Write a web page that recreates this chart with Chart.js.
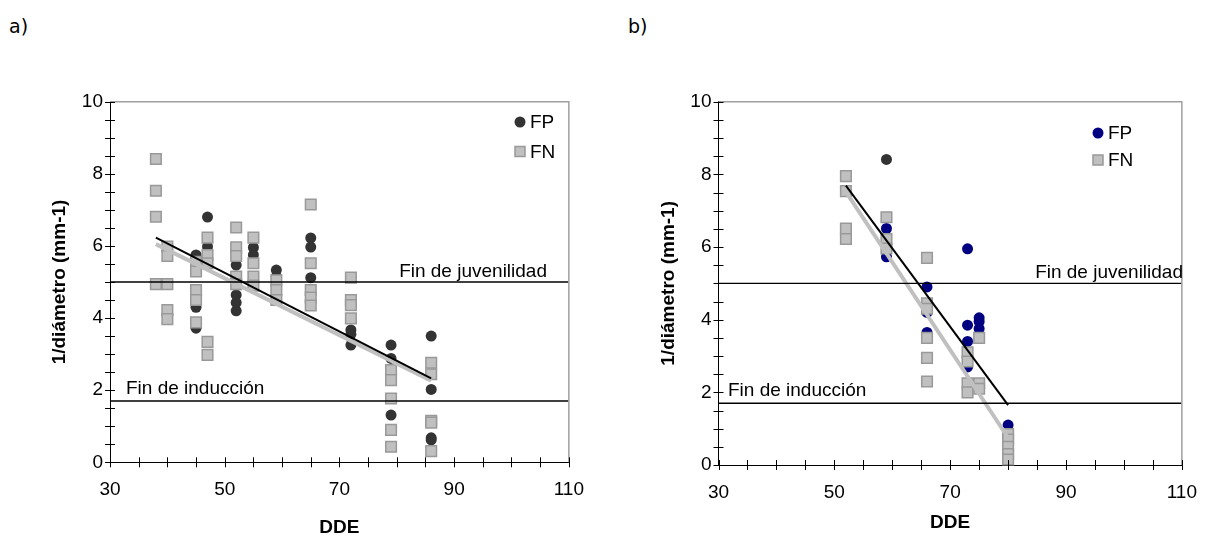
<!DOCTYPE html>
<html>
<head>
<meta charset="utf-8">
<script src="https://cdn.jsdelivr.net/npm/chart.js@4.4.0/dist/chart.umd.min.js"></script>
<style>
  body { margin: 0; background: #fff; width: 1213px; height: 540px; overflow: hidden; position: relative; }
  .panel { position: absolute; top: 0; }
  .tag { position: absolute; top: 15px; font-family: "DejaVu Sans", Verdana, sans-serif; font-size: 19px; color: #000; }
</style>
</head>
<body>
<div class="tag" style="left:9px">a)</div>
<div class="tag" style="left:628px">b)</div>
<canvas id="chartA" class="panel" style="left:0" width="600" height="540"></canvas>
<canvas id="chartB" class="panel" style="left:610px" width="603" height="540"></canvas>
<script>
// axis labels that get a number (ticks every 5 on x, every 0.5 on y)
const xLabels = [30, 50, 70, 90, 110];
const yLabels = [0, 2, 4, 6, 8, 10];

// reference levels
const juvenilidad = 5.0;
const induccion = 1.7;

// a) points as [DDE, 1/diametro]
const fpA = [
  [45, 5.75], [45, 4.3], [45, 3.72],
  [47, 6.8], [47, 5.98],
  [52, 5.47], [52, 4.64], [52, 4.43], [52, 4.2],
  [55, 5.96], [55, 5.75],
  [59, 5.33], [59, 5.15],
  [65, 6.22], [65, 5.97], [65, 5.12],
  [72, 3.67], [72, 3.55], [72, 3.25],
  [79, 3.25], [79, 2.88], [79, 1.31],
  [86, 3.5], [86, 2.02], [86, 0.68], [86, 0.62]
];
const fnA = [
  [38, 8.41], [38, 7.53], [38, 6.81], [38, 4.94],
  [40, 5.98], [40, 5.72], [40, 4.94], [40, 4.22], [40, 3.97],
  [45, 5.56], [45, 5.29], [45, 4.78], [45, 4.5], [45, 3.88],
  [47, 6.23], [47, 5.75], [47, 5.52], [47, 3.34], [47, 2.98],
  [52, 6.51], [52, 5.96], [52, 5.72], [52, 5.15], [52, 4.94],
  [55, 6.23], [55, 5.52], [55, 5.15], [55, 4.9],
  [59, 5.05], [59, 4.78], [59, 4.5],
  [65, 7.15], [65, 5.52], [65, 4.78], [65, 4.57], [65, 4.35],
  [72, 5.12], [72, 4.5], [72, 4.36], [72, 3.99],
  [79, 2.56], [79, 2.28], [79, 1.77], [79, 0.9], [79, 0.43],
  [86, 2.76], [86, 2.44], [86, 1.15], [86, 1.1], [86, 0.31]
];
const fitFpA = [[38, 6.23], [86, 2.33]];
const fitFnA = [[38, 6.05], [86, 2.26]];

// b)
const fpB = [
  [59, 6.51], [59, 5.73],
  [66, 4.9], [66, 4.2], [66, 3.65],
  [73, 5.95], [73, 3.85], [73, 3.4], [73, 2.7],
  [75, 4.05], [75, 3.95], [75, 3.75],
  [80, 1.1]
];
const fpBgray = [[59, 8.41]];
const fnB = [
  [52, 7.95], [52, 7.54], [52, 6.51], [52, 6.22],
  [59, 6.82], [59, 6.22], [59, 5.96],
  [66, 5.7], [66, 4.45], [66, 4.3], [66, 3.5], [66, 2.95], [66, 2.3],
  [73, 3.1], [73, 2.85], [73, 2.25], [73, 2.0],
  [75, 3.5], [75, 2.25], [75, 2.1],
  [80, 0.85], [80, 0.7], [80, 0.5], [80, 0.3], [80, 0.15]
];
const fitFpB = [[52, 7.69], [80, 1.65]];
const fitFnB = [[52, 7.52], [80, 0.75]];

const FONT = '"Liberation Sans", Arial, sans-serif';
const toXY = arr => arr.map(p => ({ x: p[0], y: p[1] }));

// frame, crossing ticks, line labels and legend
const panelDecor = {
  id: 'panelDecor',
  afterDraw(chart, args, o) {
    const { ctx, chartArea: a, scales: { x, y } } = chart;
    ctx.save();
    ctx.strokeStyle = '#a0a0a0';
    ctx.lineWidth = 1.5;
    ctx.beginPath();
    ctx.moveTo(a.left, a.top);
    ctx.lineTo(a.right, a.top);
    ctx.lineTo(a.right, a.bottom);
    ctx.stroke();

    ctx.strokeStyle = '#000';
    ctx.lineWidth = 1;
    ctx.beginPath();
    x.ticks.forEach(t => {
      const px = Math.round(x.getPixelForValue(t.value)) + 0.5;
      ctx.moveTo(px, a.bottom - 5);
      ctx.lineTo(px, a.bottom + 5);
    });
    y.ticks.forEach(t => {
      const py = Math.round(y.getPixelForValue(t.value)) + 0.5;
      ctx.moveTo(a.left - 5, py);
      ctx.lineTo(a.left + 5, py);
    });
    ctx.stroke();

    ctx.fillStyle = '#000';
    ctx.font = '19px ' + FONT;
    ctx.textBaseline = 'alphabetic';
    ctx.textAlign = 'right';
    ctx.fillText('Fin de juvenilidad', o.juvX, y.getPixelForValue(juvenilidad) - 5);
    ctx.textAlign = 'left';
    ctx.fillText('Fin de inducción', o.indX, y.getPixelForValue(induccion) - 7);

    // legend
    ctx.textBaseline = 'middle';
    ctx.fillStyle = o.fpColor;
    ctx.beginPath();
    ctx.arc(o.legX, o.legY1, 5.5, 0, Math.PI * 2);
    ctx.fill();
    ctx.fillStyle = '#c0c0c0';
    ctx.strokeStyle = '#999';
    ctx.lineWidth = 1.5;
    ctx.fillRect(o.legX - 5, o.legY2 - 5, 10, 10);
    ctx.strokeRect(o.legX - 5, o.legY2 - 5, 10, 10);
    ctx.fillStyle = '#000';
    ctx.fillText('FP', o.legX + 10, o.legY1 + 1);
    ctx.fillText('FN', o.legX + 10, o.legY2 + 1);
    ctx.restore();
  }
};

function refLine(v) {
  return { type: 'line', data: [{ x: 30, y: v }, { x: 110, y: v }], borderColor: '#000', borderWidth: 1.4, pointRadius: 0 };
}

function makeChart(id, p) {
  const datasets = [
    refLine(juvenilidad),
    refLine(induccion),
    { type: 'line', data: toXY(p.fitFp), borderColor: '#000', borderWidth: 2, pointRadius: 0 },
    { type: 'line', data: toXY(p.fitFn), borderColor: '#c0c0c0', borderWidth: 4, pointRadius: 0 },
    { data: toXY(p.fn), pointStyle: 'rect', pointRadius: 7.5, backgroundColor: '#c0c0c0', borderColor: '#999', borderWidth: 1.5, clip: false },
    { data: toXY(p.fp), pointStyle: 'circle', pointRadius: 5.5, backgroundColor: p.fpColor, borderColor: p.fpColor, borderWidth: 0, clip: false }
  ];
  if (p.extra) {
    datasets.push({ data: toXY(p.extra), pointStyle: 'circle', pointRadius: 5.5, backgroundColor: '#333', borderWidth: 0, clip: false });
  }
  return new Chart(document.getElementById(id), {
    type: 'scatter',
    data: { datasets: datasets },
    plugins: [panelDecor],
    options: {
      responsive: false,
      animation: false,
      events: [],
      layout: { padding: { top: 101.7, right: p.padRight, bottom: 0, left: 0 } },
      plugins: {
        legend: { display: false },
        tooltip: { enabled: false },
        panelDecor: p.decor
      },
      scales: {
        x: {
          type: 'linear', min: 30, max: 110,
          afterFit: s => { s.height = p.xHeight; },
          grid: { display: false, drawTicks: false },
          border: { color: '#000', width: 1 },
          ticks: {
            stepSize: 5, autoSkip: false, maxRotation: 0, padding: 16, color: '#000',
            font: { family: FONT, size: 19 },
            callback: v => xLabels.includes(v) ? v : ''
          },
          title: {
            display: true, text: 'DDE', color: '#000',
            font: { family: FONT, size: 19, weight: 'bold' },
            padding: { top: 0, bottom: p.xTitlePad }
          }
        },
        y: {
          min: 0, max: 10,
          afterFit: s => { s.width = p.yWidth; },
          grid: { display: false, drawTicks: false },
          border: { color: '#000', width: 1 },
          ticks: {
            stepSize: 0.5, autoSkip: false, padding: 7, color: '#000',
            font: { family: FONT, size: 19 },
            callback: v => yLabels.includes(v) ? v : ''
          },
          title: {
            display: true, text: '1/diámetro (mm-1)', color: '#000',
            font: { family: FONT, size: 19, weight: 'bold' },
            padding: { top: p.yTitlePad, bottom: 0 }
          }
        }
      }
    }
  });
}

makeChart('chartA', {
  fp: fpA, fn: fnA, fitFp: fitFpA, fitFn: fitFnA, fpColor: '#333',
  padRight: 30, yWidth: 110, xHeight: 77.7, xTitlePad: 1, yTitlePad: 48,
  decor: { juvX: 547, indX: 126, legX: 520, legY1: 122, legY2: 151.5, fpColor: '#333' }
});

makeChart('chartB', {
  fp: fpB, fn: fnB, fitFp: fitFpB, fitFn: fitFnB, fpColor: '#000080', extra: fpBgray,
  padRight: 18, yWidth: 108.5, xHeight: 75, xTitlePad: 6, yTitlePad: 47,
  decor: { juvX: 573, indX: 118, legX: 488, legY1: 133, legY2: 160, fpColor: '#000080' }
});
</script>
</body>
</html>
